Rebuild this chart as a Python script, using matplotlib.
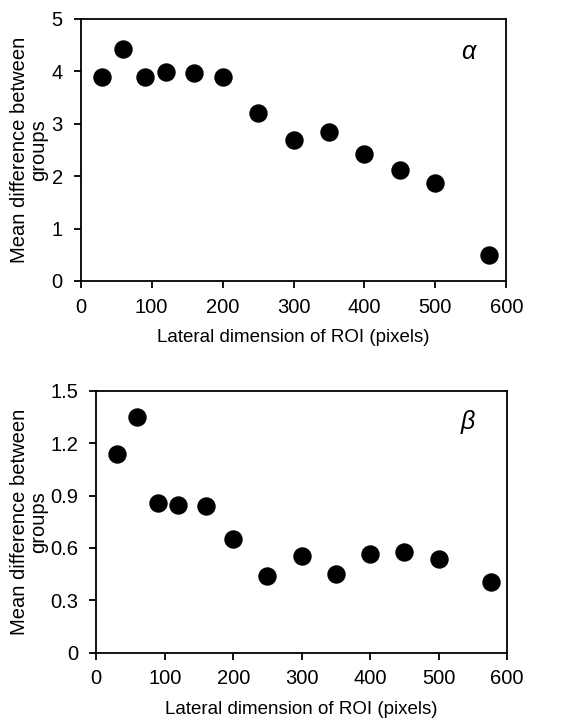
import numpy as np
import matplotlib.pyplot as plt

plt.rcParams['font.family'] = ['Liberation Sans', 'DejaVu Sans']

# ---------------- data ----------------
roi_size = [30, 60, 90, 120, 160, 200, 250, 300, 350, 400, 450, 500, 576]
diff_alpha = [3.89, 4.43, 3.88, 3.99, 3.97, 3.89, 3.21, 2.69, 2.84, 2.42, 2.12, 1.86, 0.50]
diff_beta = [1.135, 1.347, 0.857, 0.847, 0.838, 0.649, 0.439, 0.553, 0.452, 0.563, 0.576, 0.536, 0.403]

alpha_yticks = [0, 1, 2, 3, 4, 5]
beta_yticks = [0, 0.3, 0.6, 0.9, 1.2, 1.5]
beta_ylabels = ["0", "0.3", "0.6", "0.9", "1.2", "1.5"]
xticks = [0, 100, 200, 300, 400, 500, 600]

W, H = 587, 722
fig = plt.figure(figsize=(W / 100, H / 100), dpi=100)

def panel(rect, y, yticks, ylabels, greek, gpos):
    l, t, r, b = rect
    ax = fig.add_axes([l / W, 1 - b / H, (r - l) / W, (b - t) / H])
    ax.scatter(roi_size, y, s=150, color="black", zorder=3, clip_on=False)
    ax.set_xlim(0, 600)
    ax.set_ylim(yticks[0], yticks[-1])
    ax.set_xticks(xticks)
    ax.set_yticks(yticks)
    ax.set_yticklabels(ylabels)
    ax.tick_params(direction="out", length=5, width=1.3, labelsize=14.5)
    ax.tick_params(axis="x", pad=7)
    ax.tick_params(axis="y", pad=8)
    for s in ax.spines.values():
        s.set_linewidth(1.3)
    ax.set_xlabel("Lateral dimension of ROI (pixels)", fontsize=13.5, labelpad=9)
    # y label placed in figure pixels so it sits close to the left edge
    fig.text(29 / W, 1 - (t + b) / 2 / H, "Mean difference between\ngroups",
             rotation=90, fontsize=14.5, ha="center", va="center",
             linespacing=1.0, multialignment="center")
    ax.text(gpos[0], gpos[1], greek, transform=ax.transAxes, fontsize=18,
            style="italic", ha="center", va="center")
    return ax

panel((80.7, 18.7, 506.3, 281), diff_alpha, alpha_yticks, [str(v) for v in alpha_yticks],
      "α", (0.91, 0.873))
panel((96.3, 390.7, 507, 652.7), diff_beta, beta_yticks, beta_ylabels,
      "β", (0.905, 0.88))

fig.savefig("out.png", dpi=100)
